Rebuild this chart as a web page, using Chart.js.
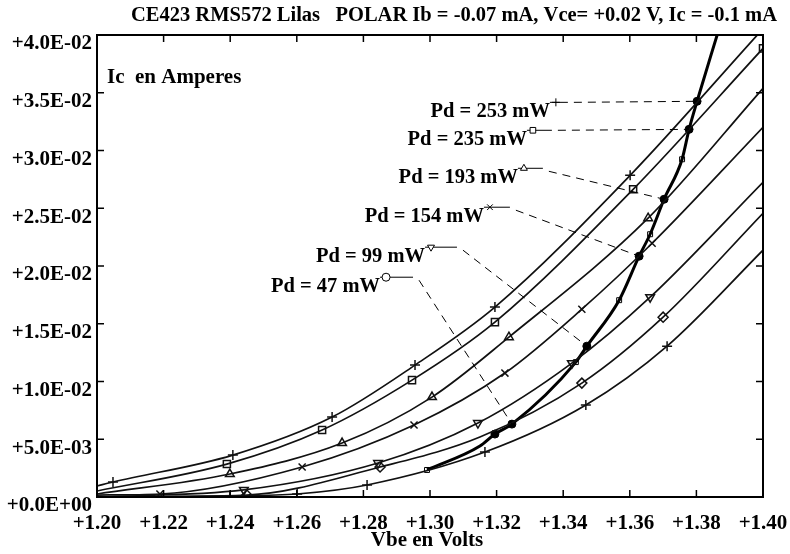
<!DOCTYPE html>
<html>
<head>
<meta charset="utf-8">
<script src="https://cdn.jsdelivr.net/npm/chart.js@4.4.1/dist/chart.umd.min.js"></script>
<style>
  html, body { margin: 0; padding: 0; background: #fff; }
  canvas { display: block; }
</style>
</head>
<body>
<canvas id="chart" width="790" height="554"></canvas>
<script>
// Ic (A) versus Vbe (V), one curve per marker type
const vbeA = [1.2000, 1.2048, 1.2408, 1.2706, 1.2955, 1.3195, 1.3601, 1.3982];
const icA  = [0.00095, 0.00130, 0.00363, 0.00692, 0.01142, 0.01644, 0.02785, 0.03997];
const vbeB = [1.2000, 1.2390, 1.2676, 1.2946, 1.3195, 1.3610, 1.4000];
const icB  = [0.00052, 0.00285, 0.00580, 0.01012, 0.01514, 0.02664, 0.03884];
const vbeC = [1.2000, 1.2399, 1.2736, 1.3006, 1.3237, 1.3655, 1.4000];
const icC  = [0.00026, 0.00199, 0.00467, 0.00865, 0.01384, 0.02414, 0.03538];
const vbeD = [1.2000, 1.2189, 1.2616, 1.2952, 1.3225, 1.3456, 1.3667, 1.4000];
const icD  = [0.00017, 0.00026, 0.00260, 0.00623, 0.01073, 0.01626, 0.02197, 0.03201];
const vbeE = [1.2000, 1.2441, 1.2844, 1.3144, 1.3426, 1.3661, 1.4000];
const icE  = [0.00000, 0.00061, 0.00294, 0.00640, 0.01159, 0.01730, 0.02725];
const vbeF = [1.2000, 1.2450, 1.2850, 1.3150, 1.3456, 1.3700, 1.4000];
const icF  = [0.00000, 0.00017, 0.00260, 0.00519, 0.00986, 0.01557, 0.02457];
const vbeG = [1.2000, 1.2399, 1.2601, 1.2811, 1.3165, 1.3468, 1.3712, 1.4000];
const icG  = [0.00000, 0.00009, 0.00026, 0.00104, 0.00389, 0.00796, 0.01306, 0.02137];

// bold locus through the Pd points
const vbePd = [1.2991, 1.3150, 1.3195, 1.3246, 1.3438, 1.3471, 1.3568, 1.3628, 1.3661, 1.3703, 1.3757, 1.3778, 1.3802, 1.3862];
const icPd  = [0.00234, 0.00441, 0.00545, 0.00631, 0.01168, 0.01306, 0.01704, 0.02085, 0.02275, 0.02578, 0.02924, 0.03183, 0.03426, 0.03997];
const pdKind = ['sq', '', 'dot', 'dot', 'sq', 'dot', 'sq', 'dot', 'sq', 'dot', 'sq', 'dot', 'dot', ''];

// Pd labels and where their leaders start
const pdLabels  = ['Pd = 253 mW', 'Pd = 235 mW', 'Pd = 193 mW', 'Pd = 154 mW', 'Pd = 99 mW', 'Pd = 47 mW'];
const pdAnchorV = [1.3360, 1.3291, 1.3264, 1.3162, 1.2985, 1.2850];
const pdAnchorI = [0.03417, 0.03175, 0.02846, 0.02509, 0.02163, 0.01903];
const pdSegEndV = [1.3414, 1.3366, 1.3339, 1.3240, 1.3081, 1.2949];
const pdDotIdx  = [12, 11, 9, 7, 5, 3];
const pdMarker  = ['cross', 'rect', 'triangle', 'crossRot', 'triangleDown', 'circle'];

const xTickStep = 0.02;
const yTickStep = 0.005;

const toPts = (xs, ys) => xs.map((x, i) => ({ x: x, y: ys[i] }));
const marks = (n, skip) => Array.from({ length: n }, (_, i) => skip.includes(i) ? 0 : 5);

function curve(xs, ys, style, skip, rot) {
    return {
        data: toPts(xs, ys),
        showLine: true,
        borderColor: '#111',
        borderWidth: 1.7,
        cubicInterpolationMode: 'monotone',
        pointStyle: style,
        pointRotation: rot || 0,
        pointRadius: marks(xs.length, skip),
        pointHoverRadius: 0,
        pointBorderColor: '#111',
        pointBackgroundColor: 'rgba(0,0,0,0)',
        pointBorderWidth: 1.5
    };
}

const serif = 'Liberation Serif';

function sciLabel(v) {
    if (Math.abs(v) < 1e-12) return '+0.0E+00';
    const parts = v.toExponential(1).split('e');
    const e = parseInt(parts[1], 10);
    return '+' + parts[0] + 'E' + (e < 0 ? '-' : '+') + String(Math.abs(e)).padStart(2, '0');
}

const decor = {
    id: 'decor',
    afterDatasetsDraw(chart) {
        const { ctx, chartArea: a, scales: { x, y } } = chart;
        ctx.save();
        ctx.strokeStyle = '#000';
        ctx.fillStyle = '#000';

        // frame and inside ticks
        ctx.lineWidth = 2;
        ctx.strokeRect(a.left, a.top, a.right - a.left, a.bottom - a.top);
        ctx.lineWidth = 1.5;
        ctx.beginPath();
        x.ticks.forEach(t => {
            const px = x.getPixelForValue(t.value);
            ctx.moveTo(px, a.bottom); ctx.lineTo(px, a.bottom - 7);
            ctx.moveTo(px, a.top); ctx.lineTo(px, a.top + 7);
        });
        y.ticks.forEach(t => {
            const py = y.getPixelForValue(t.value);
            ctx.moveTo(a.left, py); ctx.lineTo(a.left + 7, py);
            ctx.moveTo(a.right, py); ctx.lineTo(a.right - 7, py);
        });
        ctx.stroke();

        // Pd labels with leaders
        ctx.font = 'bold 20.5px "' + serif + '"';
        ctx.textAlign = 'right';
        ctx.textBaseline = 'alphabetic';
        pdLabels.forEach((txt, i) => {
            const ax = x.getPixelForValue(pdAnchorV[i]);
            const ay = y.getPixelForValue(pdAnchorI[i]);
            const sx = x.getPixelForValue(pdSegEndV[i]);
            const dx = x.getPixelForValue(vbePd[pdDotIdx[i]]);
            const dy = y.getPixelForValue(icPd[pdDotIdx[i]]);
            ctx.fillStyle = '#000';
            ctx.fillText(txt, ax, ay + 15);
            ctx.lineWidth = 1;
            ctx.setLineDash([]);
            ctx.beginPath();
            ctx.moveTo(ax, ay); ctx.lineTo(sx, ay);
            ctx.stroke();
            ctx.setLineDash([8, 6]);
            ctx.beginPath();
            ctx.moveTo(sx + 6, ay + (i > 1 ? 3 : 0)); ctx.lineTo(dx, dy);
            ctx.stroke();
            ctx.setLineDash([]);
            let style = pdMarker[i], rot = 0;
            if (style === 'triangleDown') { style = 'triangle'; rot = 180; }
            ctx.fillStyle = '#fff';
            Chart.helpers.drawPoint(ctx, { pointStyle: style, radius: 4, rotation: rot, borderWidth: 1 }, ax + 6, ay);
        });

        // text
        ctx.fillStyle = '#000';
        ctx.font = 'bold 20.5px "' + serif + '"';
        ctx.textAlign = 'center';
        ctx.textBaseline = 'middle';
        ctx.fillText('CE423 RMS572 Lilas   POLAR Ib = -0.07 mA, Vce= +0.02 V, Ic = -0.1 mA', 454, 16);
        ctx.font = 'bold 21px "' + serif + '"';
        ctx.fillText('Vbe en Volts', 427, 541);
        ctx.textAlign = 'left';
        ctx.fillText('Ic  en Amperes', 107, 78);
        ctx.restore();
    }
};

new Chart(document.getElementById('chart').getContext('2d'), {
    type: 'scatter',
    data: {
        datasets: [
            curve(vbeA, icA, 'cross', [0, 7]),
            curve(vbeB, icB, 'rect', [0]),
            curve(vbeC, icC, 'triangle', [0, 6]),
            curve(vbeD, icD, 'crossRot', [0, 7]),
            curve(vbeE, icE, 'triangle', [0, 6], 180),
            curve(vbeF, icF, 'rectRot', [0, 3, 6]),
            curve(vbeG, icG, 'cross', [0, 7]),
            {
                data: toPts(vbePd, icPd),
                showLine: true,
                borderColor: '#000',
                borderWidth: 3,
                cubicInterpolationMode: 'monotone',
                pointStyle: pdKind.map(k => k === 'sq' ? 'rect' : 'circle'),
                pointRadius: pdKind.map(k => k === 'dot' ? 4 : (k === 'sq' ? 3.5 : 0)),
                pointHoverRadius: 0,
                pointBorderColor: '#000',
                pointBackgroundColor: pdKind.map(k => k === 'dot' ? '#000' : 'rgba(0,0,0,0)'),
                pointBorderWidth: 1
            }
        ]
    },
    options: {
        responsive: false,
        animation: false,
        devicePixelRatio: 1,
        layout: { padding: { left: 0, top: 35, right: 27, bottom: 0 } },
        plugins: { legend: { display: false }, tooltip: { enabled: false } },
        scales: {
            x: {
                type: 'linear',
                min: 1.2,
                max: 1.4,
                grid: { display: false, drawTicks: false },
                border: { display: false },
                afterFit: s => { s.height = 57; s.paddingLeft = 0; s.paddingRight = 0; },
                ticks: {
                    stepSize: xTickStep,
                    color: '#000',
                    padding: 14,
                    maxRotation: 0,
                    autoSkip: false,
                    font: { family: serif, size: 21, weight: 'bold' },
                    callback: v => '+' + v.toFixed(2)
                }
            },
            y: {
                min: 0,
                max: 0.04,
                grid: { display: false, drawTicks: false },
                border: { display: false },
                afterFit: s => { s.width = 97; s.paddingTop = 0; s.paddingBottom = 0; },
                ticks: {
                    stepSize: yTickStep,
                    color: '#000',
                    padding: 5,
                    labelOffset: 9,
                    autoSkip: false,
                    font: { family: serif, size: 21, weight: 'bold' },
                    callback: v => sciLabel(v)
                }
            }
        }
    },
    plugins: [decor]
});
</script>
</body>
</html>
